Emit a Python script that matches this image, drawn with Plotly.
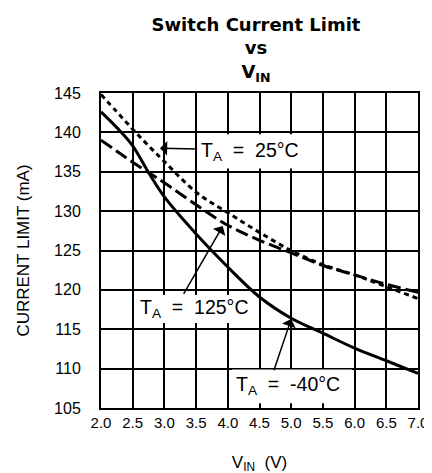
import plotly.graph_objects as go

# ---- data ----
vin = [2.0, 2.25, 2.5, 2.75, 3.0, 3.5, 4.0, 4.5, 5.0, 5.5, 6.0, 6.5, 7.0]
i_m40 = [142.6, 140.6, 138.3, 134.9, 131.8, 127.1, 122.9, 119.1, 116.4, 114.5, 112.6, 111.0, 109.4]
i_25 = [144.8, 142.6, 140.4, 138.3, 136.3, 132.4, 129.8, 127.3, 125.0, 123.2, 121.9, 120.4, 118.9]
i_125 = [139.0, 137.6, 136.2, 134.9, 133.6, 130.8, 128.2, 126.3, 124.7, 123.1, 121.9, 120.7, 119.7]

x_ticks = [2.0, 2.5, 3.0, 3.5, 4.0, 4.5, 5.0, 5.5, 6.0, 6.5, 7.0]
y_ticks = [105, 110, 115, 120, 125, 130, 135, 140, 145]

labels = ["T<sub>A</sub>\u00a0\u00a0=\u00a0\u00a025°C",
          "T<sub>A</sub>\u00a0\u00a0=\u00a0\u00a0125°C",
          "T<sub>A</sub>\u00a0\u00a0=\u00a0\u00a0-40°C"]
label_pos = [(4.35, 137.6), (3.48, 117.6), (4.95, 107.8)]
arrow_tip = [(2.93, 138.0), (3.92, 128.1), (5.0, 116.3)]
arrow_tail = [(3.54, 137.9), (3.29, 119.3), (4.72, 109.6)]
# white label boxes (x0, x1, y0, y1)
label_box = [(3.52, 5.21, 135.4, 139.75), (2.54, 4.46, 115.8, 119.35), (4.07, 5.96, 105.6, 109.9)]

fig = go.Figure()
fig.add_trace(go.Scatter(x=vin, y=i_m40, mode="lines", line=dict(color="black", width=3, shape="spline")))
fig.add_trace(go.Scatter(x=vin, y=i_25, mode="lines", line=dict(color="black", width=3, shape="spline", dash="5px,4px")))
fig.add_trace(go.Scatter(x=vin, y=i_125, mode="lines", line=dict(color="black", width=3, shape="spline", dash="13px,5px")))

shapes = []
for x0, x1, y0, y1 in label_box:
    shapes.append(dict(type="rect", xref="x", yref="y", x0=x0, x1=x1, y0=y0, y1=y1,
                       fillcolor="white", line=dict(width=0), layer="between"))

annotations = []
for (tx, ty), (ax, ay) in zip(arrow_tip, arrow_tail):
    annotations.append(dict(x=tx, y=ty, ax=ax, ay=ay, xref="x", yref="y", axref="x", ayref="y",
                            text="", showarrow=True, arrowhead=1, arrowsize=1.6, arrowwidth=1.5,
                            arrowcolor="black"))
for txt, (lx, ly) in zip(labels, label_pos):
    annotations.append(dict(x=lx, y=ly, xref="x", yref="y", text=txt, showarrow=False,
                            font=dict(family="Liberation Sans, Arial, sans-serif", size=19.5, color="black")))

fig.update_layout(
    width=432, height=473,
    margin=dict(l=93, r=17, t=85, b=65),
    paper_bgcolor="white", plot_bgcolor="white",
    showlegend=False,
    title=dict(text="<b>Switch Current Limit</b><br><b>vs</b><br><b>V<sub>IN</sub></b>",
               x=248 / 432, xref="container", xanchor="center",
               y=1 - 23 / 473, yref="container", yanchor="top",
               font=dict(family="DejaVu Sans, sans-serif", size=18, color="black")),
    annotations=annotations,
    shapes=shapes,
)
fig.update_xaxes(range=[2.0, 7.0], tickvals=x_ticks, ticktext=[f"{v:.1f}" for v in x_ticks],
                 showgrid=True, gridcolor="black", gridwidth=1.5, zeroline=False,
                 showline=True, linecolor="black", linewidth=2, mirror=True, ticks="",
                 tickfont=dict(family="Liberation Sans, Arial, sans-serif", size=15, color="black"),
                 ticklabelstandoff=0,
                 title=dict(text="V<sub>IN</sub>  (V)", standoff=26,
                            font=dict(family="Liberation Sans, Arial, sans-serif", size=17, color="black")))
fig.update_yaxes(range=[105, 145], tickvals=y_ticks,
                 showgrid=True, gridcolor="black", gridwidth=1.5, zeroline=False,
                 showline=True, linecolor="black", linewidth=2, mirror=True, ticks="",
                 tickfont=dict(family="Liberation Sans, Arial, sans-serif", size=16, color="black"),
                 ticklabelstandoff=15,
                 title=dict(text="CURRENT LIMIT (mA)", standoff=20,
                            font=dict(family="Liberation Sans, Arial, sans-serif", size=17, color="black")))

fig.write_html("out.html")
